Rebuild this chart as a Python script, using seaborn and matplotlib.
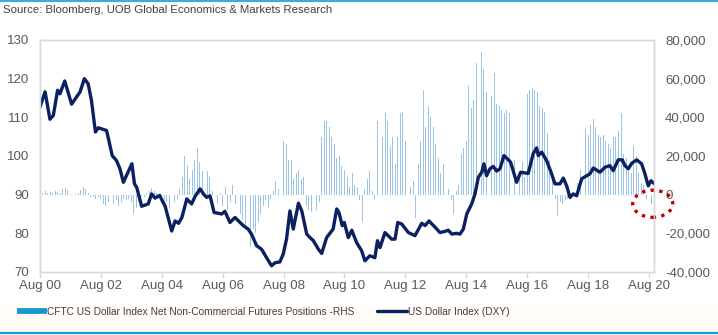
import numpy as np
import pandas as pd
import matplotlib
matplotlib.use("Agg")
import matplotlib.pyplot as plt
import matplotlib.dates as mdates
from matplotlib.lines import Line2D
from matplotlib.patches import Ellipse
from matplotlib.ticker import FuncFormatter
from matplotlib.font_manager import FontProperties
import seaborn as sns

sns.set_theme(style="white")
plt.rcParams['font.family'] = ['Liberation Sans', 'DejaVu Sans']

# ---------------- data ----------------
dxy_dates = [
    "2000-08-01", "2000-10-01", "2000-11-28", "2001-01-08", "2001-02-28", "2001-03-28",
    "2001-05-25", "2001-08-15", "2001-11-25", "2002-01-15", "2002-03-01", "2002-04-10",
    "2002-05-28", "2002-07-01", "2002-10-08", "2002-11-05", "2002-12-15", "2003-02-05",
    "2003-03-18", "2003-04-28", "2003-08-08", "2003-09-08", "2003-10-05", "2003-12-03",
    "2004-02-20", "2004-04-01", "2004-05-12", "2004-07-05", "2004-09-10", "2004-11-28",
    "2005-01-08", "2005-02-18", "2005-03-30", "2005-05-28", "2005-07-25", "2005-09-03",
    "2005-11-03", "2005-12-20", "2006-01-22", "2006-03-03", "2006-04-20", "2006-07-20",
    "2006-08-28", "2006-10-27", "2006-12-27", "2007-04-05", "2007-06-03", "2007-07-13",
    "2007-09-12", "2007-11-10", "2008-01-10", "2008-03-10", "2008-04-20", "2008-06-17",
    "2008-07-27", "2008-09-05", "2008-10-16", "2008-11-25", "2009-01-26", "2009-03-07",
    "2009-05-05", "2009-06-14", "2009-07-24", "2009-09-22", "2009-11-01", "2009-12-30",
    "2010-03-18", "2010-04-30", "2010-05-27", "2010-07-05", "2010-07-30", "2010-09-16",
    "2010-10-28", "2010-12-25", "2011-02-23", "2011-04-03", "2011-06-01", "2011-08-01",
    "2011-09-01", "2011-10-01", "2011-11-30", "2012-02-18", "2012-03-30", "2012-05-01",
    "2012-06-18", "2012-09-06", "2012-11-24", "2013-02-13", "2013-03-25", "2013-05-11",
    "2013-07-22", "2013-09-20", "2013-11-18", "2013-12-28", "2014-02-10", "2014-04-07",
    "2014-05-18", "2014-06-27", "2014-08-07", "2014-10-05", "2014-11-14", "2014-12-24",
    "2015-02-03", "2015-03-01", "2015-04-02", "2015-05-12", "2015-06-21", "2015-07-31",
    "2015-09-09", "2015-10-27", "2015-12-06", "2016-01-15", "2016-03-27", "2016-05-14",
    "2016-08-13", "2016-10-12", "2016-11-22", "2016-12-12", "2017-01-22", "2017-03-22",
    "2017-05-21", "2017-06-30", "2017-08-29", "2017-10-08", "2017-11-17", "2017-12-27",
    "2018-02-05", "2018-03-17", "2018-05-16", "2018-07-15", "2018-08-24", "2018-10-03",
    "2018-12-22", "2019-02-20", "2019-04-20", "2019-05-30", "2019-07-29", "2019-09-15",
    "2019-10-18", "2019-11-27", "2020-01-06", "2020-03-06", "2020-05-04", "2020-06-13",
    "2020-07-23", "2020-08-25", "2020-09-30",
]
dxy_values = [
    112.7, 116.6, 109.5, 110.5, 117.0, 116.1,
    119.4, 113.4, 116.6, 120.0, 118.7, 114.4,
    106.2, 107.3, 106.6, 104.0, 100.1, 98.8,
    96.7, 93.2, 98.0, 92.8, 91.9, 87.0,
    87.6, 90.2, 89.1, 89.8, 87.0, 80.6,
    83.2, 82.6, 84.1, 88.9, 87.6, 89.5,
    91.5, 90.0, 89.3, 89.7, 85.4, 85.0,
    85.7, 82.8, 84.1, 82.0, 81.1, 79.8,
    76.8, 75.9, 73.7, 71.6, 72.4, 72.6,
    74.6, 78.5, 85.8, 81.1, 87.8, 85.8,
    79.8, 78.9, 78.1, 75.9, 74.8, 78.9,
    81.1, 86.3, 85.4, 82.0, 82.8, 78.9,
    80.8, 77.6, 75.5, 72.9, 74.2, 73.7,
    78.1, 76.3, 80.2, 78.5, 78.5, 82.8,
    82.4, 80.2, 79.4, 82.6, 82.0, 83.2,
    81.6, 80.2, 80.5, 80.8, 79.8, 80.0,
    79.8, 81.1, 85.0, 87.6, 90.2, 94.5,
    95.8, 98.0, 94.9, 96.7, 97.3, 96.1,
    96.7, 100.1, 99.3, 98.4, 93.2, 95.8,
    95.5, 100.6, 102.1, 100.1, 101.0, 98.8,
    95.4, 92.8, 92.8, 94.3, 92.3, 89.3,
    90.2, 89.7, 94.1, 94.9, 95.4, 96.9,
    95.8, 97.1, 97.5, 96.2, 99.0, 99.0,
    97.5, 96.7, 98.1, 99.0, 98.0, 95.4,
    92.3, 93.6, 92.9,
]

# CFTC net non-commercial positions, monthly, thousands of contracts (Aug 2000 - Sep 2020)
cftc_start = "2000-08-01"
cftc_k = [
    1.5, 1, 2, 1, 1.5,                                        # 2000 Aug-Dec
    1, 2, 1.5, 1, 3, 3.5, 2.5, 0.3, 0.2, 0.3, 1, 2.5,         # 2001
    4, 3, 1, -1, -1, -2, -1, -2, -5, -6, -4, -6,              # 2002
    -5, -3, -6, -4, -2, -3, -2, -4, -10, -7, -2, -1,          # 2003
    -1, 1, 2, 3.5, 2, 1, -1, -3, -5, -4, -7, -3,              # 2004
    -4, -2, 3, 9, 20, 15, 8, 13, 18, 24, 17, 12,              # 2005
    15, 12, 9, 2, -3, -5, 1, -6, 4, -8, -4, 5,                # 2006
    -5, -8, -10, -13, -16, -22, -27, -18, -20, -14, -10, -6,  # 2007
    -3, -7, -2, 2, 7, 3, 9, 28, 26, 18, 18, 8,                # 2008
    11, 13, 8, 9, -6, -8, -9, -7, -8, -4, 30, 38,             # 2009
    38, 35, 30, 26, 19, 20, 15, 13, 9, 4, 11, 5,              # 2010
    4, -3, -14, 3, 8, 12, 2, -2, 38, 32, 30, 42,              # 2011
    38, 25, 30, 16, 30, 42, 43, 28, -5, 4, 7, -12,            # 2012
    16, 28, 54, 35, 46, 40, 35, 26, 19, 11, 16, -2,           # 2013
    3, -3, -10, 2, 5, 21, 24, 28, 56, 45, 49, 68,             # 2014
    71, 74, 65, 53, 52, 51, 63, 47, 46, 44, 42, 44,           # 2015
    42, 29, 18, 14, 11, 17, 9, 52, 54, 55, 54, 53,            # 2016
    46, 45, 43, 32, 18, 8, -2, -11, -4, -5, -3, -2,           # 2017
    -3, -2, 1, 6, 13, 28, 34, 31, 36, 39, 35, 31,             # 2018
    30, 31, 28, 26, 24, 30, 30, 33, 42, 21, 19, 12,           # 2019
    11, 25, 20, 11, 6, 5, -2, -6, -5,                         # 2020 Jan-Sep
]

dxy = pd.DataFrame({"date": pd.to_datetime(dxy_dates), "DXY": dxy_values})
cftc = pd.DataFrame({
    "date": pd.date_range(cftc_start, periods=len(cftc_k), freq="MS"),
    "net": np.array(cftc_k) * 1000.0,
})

# ---------------- styling ----------------
navy = "#0b2060"
bar_col = "#9cc4e6"
leg_bar_col = "#1a96d4"
tick_col = "#595959"
spine_col = "#d9d9d9"

fig = plt.figure(figsize=(7.18, 3.35), dpi=100)
fig.patch.set_facecolor("white")
ax = fig.add_axes([40 / 718, 1 - 272 / 335, 614 / 718, 232 / 335])
ax2 = ax.twinx()

# bars (right axis)
ax2.bar(cftc["date"], cftc["net"], width=11, color=bar_col, linewidth=0)
ax2.set_ylim(-40000, 80000)
ax2.set_yticks(np.arange(-40000, 80001, 20000))
ax2.yaxis.set_major_formatter(FuncFormatter(lambda v, p: f"{v:,.0f}"))

# line (left axis)
sns.lineplot(data=dxy, x="date", y="DXY", ax=ax, color=navy, linewidth=2.4,
             solid_joinstyle="round", solid_capstyle="round")
ax.set_ylim(70, 130)
ax.set_yticks(np.arange(70, 131, 10))
ax.set_xlim(pd.Timestamp("2000-08-01"), pd.Timestamp("2020-09-30"))
ax.set_xlabel("")
ax.set_ylabel("")

ax.set_zorder(ax2.get_zorder() + 1)
ax.patch.set_visible(False)

ticks = pd.date_range("2000-08-01", "2020-08-01", freq="24MS")
ax.set_xticks(ticks)
ax.xaxis.set_major_formatter(mdates.DateFormatter("Aug %y"))

for a in (ax, ax2):
    for s in a.spines.values():
        s.set_color(spine_col)
        s.set_linewidth(1.0)
ax.tick_params(axis="x", length=4, width=1, color=spine_col, direction="out",
               labelsize=9.5, labelcolor=tick_col, pad=1.5, bottom=True)
ax.tick_params(axis="y", length=0, labelsize=9.5, labelcolor=tick_col, pad=8)
ax2.tick_params(axis="y", length=0, labelsize=9.5, labelcolor=tick_col, pad=8)

# highlight ellipse around latest positions
ell_center = mdates.date2num(pd.Timestamp("2020-09-15"))
ell = Ellipse((ell_center, -4700), width=480, height=14000, fill=False,
              edgecolor="#c00000", linestyle=(0, (1, 1.6)), linewidth=2.4,
              clip_on=False, zorder=5)
ax2.add_patch(ell)

# source
fig.text(3 / 718, 1 - 10 / 335, "Source: Bloomberg, UOB Global Economics & Markets Research",
         fontsize=8.2, color="#404040", ha="left", va="center")

# legend strip background and border lines
fig.add_artist(plt.Rectangle((0, 2 / 335), 1, 26 / 335, transform=fig.transFigure,
                             facecolor="#fffdf6", edgecolor="none", zorder=0))
fig.add_artist(Line2D([0, 1], [1 - 1 / 335, 1 - 1 / 335], transform=fig.transFigure,
                      color="#3fa9e0", linewidth=1.5))
fig.add_artist(Line2D([0, 1], [2 / 335, 2 / 335], transform=fig.transFigure,
                      color="#1a96d4", linewidth=1.6))

leg_prop = FontProperties(family="Liberation Sans", size=7.3)
handles = [
    Line2D([], [], color=leg_bar_col, linewidth=4.2, solid_capstyle="butt"),
    Line2D([], [], color=navy, linewidth=2.4, solid_capstyle="round"),
]
labels = ["CFTC US Dollar Index Net Non-Commercial Futures Positions -RHS",
          "US Dollar Index (DXY)"]
fig.legend(handles, labels, loc="center", bbox_to_anchor=(263 / 718, 1 - 312 / 335),
           ncol=2, frameon=False, prop=leg_prop, handlelength=2.95, handletextpad=0.05,
           columnspacing=2.25, labelcolor="#404040")

fig.savefig("out.png", dpi=100)
